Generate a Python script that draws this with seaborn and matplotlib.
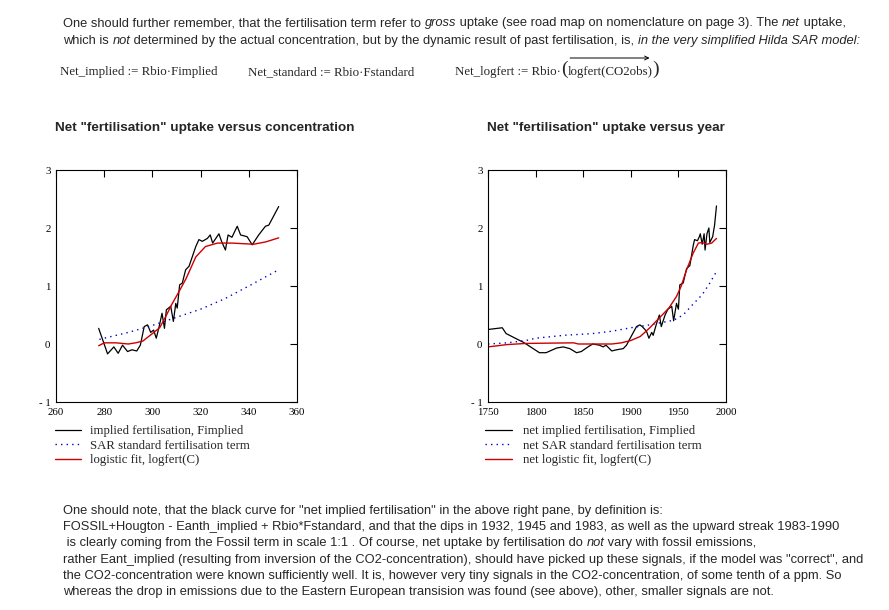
import numpy as np
import matplotlib
matplotlib.use('Agg')
import matplotlib.pyplot as plt
import seaborn as sns

sns.set_theme(style='white')
plt.rcParams['font.family'] = ['Liberation Sans', 'DejaVu Sans']

# left pane: uptake versus CO2 concentration (ppm)
conc_imp = [277.7, 281.4, 284.0, 285.8, 287.6, 289.7, 291.5, 293.5, 295.0, 296.6,
            298.0, 299.3, 300.5, 301.6, 302.8, 304.0, 305.0, 305.8, 307.6, 308.7,
            309.7, 310.3, 311.3, 312.4, 313.8, 315.2, 318.0, 319.3, 320.7, 322.8,
            324.0, 325.0, 327.6, 328.7, 330.3, 331.4, 333.0, 335.2, 336.6, 339.3,
            341.4, 344.1, 346.9, 348.3, 352.4]
imp = [0.27, -0.17, -0.05, -0.16, -0.02, -0.13, -0.10, -0.12, -0.02, 0.30,
       0.33, 0.20, 0.24, 0.10, 0.30, 0.53, 0.27, 0.59, 0.65, 0.39,
       0.70, 0.62, 1.02, 1.05, 1.28, 1.34, 1.68, 1.80, 1.77, 1.82,
       1.88, 1.74, 1.90, 1.77, 1.62, 1.88, 1.84, 2.03, 1.88, 1.85,
       1.71, 1.88, 2.03, 2.05, 2.37]
conc_std = [278, 290, 300, 310, 320, 330, 340, 352.4]
std = [0.08, 0.20, 0.32, 0.46, 0.60, 0.78, 1.00, 1.28]
conc_fit = [277.7, 280, 285, 290, 293, 296, 300, 303, 305.5, 308, 311, 314, 318,
            322, 327, 333, 342, 347, 352.4]
fit = [-0.03, 0.02, 0.02, 0.0, 0.02, 0.05, 0.18, 0.28, 0.47, 0.68, 0.9, 1.13, 1.5,
       1.68, 1.74, 1.74, 1.72, 1.76, 1.83]

# right pane: net uptake versus year
yr_imp = [1750, 1760, 1765, 1769, 1787, 1790, 1804, 1811, 1822, 1829,
          1836, 1843, 1848, 1855, 1860, 1867, 1871, 1874, 1880, 1885,
          1892, 1895.5, 1901, 1906, 1909.5, 1912, 1916.5, 1919, 1922, 1923.5,
          1927, 1930, 1932, 1936, 1939, 1943, 1945, 1948, 1950, 1951.5,
          1955, 1958.6, 1962, 1965.6, 1967, 1970, 1972, 1973, 1975, 1977,
          1978, 1980, 1982, 1983, 1986, 1988, 1990]
net_imp = [0.25, 0.27, 0.28, 0.18, 0.03, 0.0, -0.15, -0.15, -0.07, -0.05,
           -0.08, -0.15, -0.13, -0.05, 0.0, -0.02, -0.05, -0.02, -0.12, -0.1,
           -0.08, -0.02, 0.15, 0.3, 0.33, 0.3, 0.22, 0.1, 0.2, 0.15,
           0.35, 0.5, 0.3, 0.5, 0.6, 0.65, 0.4, 0.7, 0.6, 1.02,
           1.05, 1.3, 1.35, 1.7, 1.8, 1.78, 1.85, 1.9, 1.72, 1.9,
           1.62, 1.9, 2.0, 1.75, 1.85, 2.05, 2.38]
yr_std = [1750, 1770, 1790, 1800, 1830, 1860, 1880, 1900, 1920, 1945, 1955, 1965, 1975, 1983, 1990]
net_std = [0.0, 0.02, 0.06, 0.1, 0.15, 0.18, 0.22, 0.28, 0.33, 0.41, 0.5, 0.68, 0.85, 1.05, 1.25]
yr_fit = [1750, 1770, 1790, 1840, 1845, 1880, 1890, 1900, 1910, 1920, 1930, 1940, 1948,
          1953, 1958.6, 1965.6, 1971, 1975, 1980, 1985, 1990]
net_fit = [-0.05, -0.01, 0.01, 0.02, 0.0, 0.0, 0.02, 0.06, 0.13, 0.28, 0.45, 0.62, 0.82,
           1.0, 1.28, 1.57, 1.74, 1.75, 1.72, 1.74, 1.82]

left_labels = ['implied fertilisation, Fimplied', 'SAR standard fertilisation term',
               'logistic fit, logfert(C)']
right_labels = ['net implied fertilisation, Fimplied', 'net SAR standard fertilisation term',
                'net logistic fit, logfert(C)']

W, H = 889, 610
fig = plt.figure(figsize=(W / 100, H / 100), dpi=100)
fig.patch.set_facecolor('white')
SERIF = ['Liberation Serif', 'DejaVu Serif']


def px(x0, y0, x1, y1):
    # pixel box -> figure fraction rect
    return [x0 / W, 1 - y1 / H, (x1 - x0) / W, (y1 - y0) / H]


ax1 = fig.add_axes(px(56, 170, 297, 402))
ax2 = fig.add_axes(px(488, 170, 726, 402))

for ax, xs, ys, labels in [(ax1, [conc_imp, conc_std, conc_fit], [imp, std, fit], left_labels),
                           (ax2, [yr_imp, yr_std, yr_fit], [net_imp, net_std, net_fit], right_labels)]:
    sns.lineplot(x=xs[0], y=ys[0], ax=ax, color='black', lw=0.9, sort=False, label=labels[0])
    sns.lineplot(x=xs[1], y=ys[1], ax=ax, color='#0000cc', lw=1.0, sort=False,
                 linestyle=(0, (1, 3)), label=labels[1])
    sns.lineplot(x=xs[2], y=ys[2], ax=ax, color='#cc0000', lw=1.0, sort=False, label=labels[2])
    ax.set_ylim(-1, 3)
    ax.set_yticks([-1, 0, 1, 2, 3])
    ax.set_yticklabels(['- 1', '0', '1', '2', '3'])
    ax.tick_params(direction='in', top=True, right=True, length=5, width=0.8,
                   labelsize=7.8, pad=4, colors='black')
    for s in ax.spines.values():
        s.set_color('black')
        s.set_linewidth(0.8)
    ax.set_xlabel('')
    ax.set_ylabel('')
    ax.set_facecolor('white')
    ax.grid(False)

ax1.set_xlim(260, 360)
ax1.set_xticks(np.arange(260, 361, 20))
ax2.set_xlim(1750, 2000)
ax2.set_xticks(np.arange(1750, 2001, 50))
for ax in (ax1, ax2):
    for lab in ax.get_xticklabels() + ax.get_yticklabels():
        lab.set_family(SERIF)
        lab.set_fontsize(7.8)

for ax, x0, hl, tp in [(ax1, 50, 2.0, 0.75), (ax2, 480, 2.1, 0.85)]:
    h, l = ax.get_legend_handles_labels()
    ax.get_legend().remove()
    fig.legend(h, l, loc='upper left', bbox_to_anchor=(x0 / W, 1 - 420 / H),
               frameon=False, prop={'family': SERIF, 'size': 9.2},
               handlelength=hl, handletextpad=tp, labelspacing=0.2, borderaxespad=0)

fig.text(55 / W, 1 - 128 / H, 'Net "fertilisation" uptake versus concentration',
         fontsize=9.7, fontweight='bold', va='center')
fig.text(487 / W, 1 - 128 / H, 'Net "fertilisation" uptake versus year',
         fontsize=9.7, fontweight='bold', va='center')

rend = fig.canvas.get_renderer()


def width(s, **kw):
    a = fig.text(0, 0, '|' + s + '|', **kw)
    b = fig.text(0, 0, '||', **kw)
    w = a.get_window_extent(rend).width - b.get_window_extent(rend).width
    a.remove()
    b.remove()
    return w


def rich(x, y, parts, **kw):
    for s, st in parts:
        k = dict(kw)
        k.update(st)
        fig.text(x / W, 1 - y / H, s, va='center', **k)
        x += width(s, **k)
    return x


it = {'style': 'italic'}
up = {}
tsz = 9.3
rich(63, 23, [('One should further remember, that the fertilisation term refer to ', up),
              ('gross', it),
              (' uptake (see road map on nomenclature on page 3). The ', up),
              ('net', it), (' uptake,', up)], fontsize=tsz)
rich(63, 41, [('which is ', up), ('not', it),
              (' determined by the actual concentration, but by the dynamic result of past fertilisation, is, ', up),
              ('in the very simplified Hilda SAR model:', it)], fontsize=tsz)

fsz = 9.3
fig.text(60 / W, 1 - 72 / H, 'Net_implied := Rbio\u00b7Fimplied', family=SERIF, fontsize=fsz, va='center')
fig.text(248 / W, 1 - 72 / H, 'Net_standard := Rbio\u00b7Fstandard', family=SERIF, fontsize=fsz, va='center')
xe = rich(455, 72, [('Net_logfert := Rbio\u00b7', up)], family=SERIF, fontsize=fsz)
xe = rich(xe, 69, [('(', {'fontsize': 14})], family=SERIF)
xa = xe
xe = rich(xe, 72, [('logfert(CO2obs)', up)], family=SERIF, fontsize=fsz)
rich(xe, 69, [(')', {'fontsize': 14})], family=SERIF)
fig.add_artist(matplotlib.patches.FancyArrowPatch((xa / W, 1 - 58 / H), (xe / W, 1 - 58 / H),
                                                  transform=fig.transFigure, arrowstyle='->',
                                                  mutation_scale=7, lw=0.7, color='black'))

bottom = [
    'One should note, that the black curve for "net implied fertilisation" in the above right pane, by definition is:',
    'FOSSIL+Hougton - Eanth_implied + Rbio*Fstandard, and that the dips in 1932, 1945 and 1983, as well as the upward streak 1983-1990',
    None,
    'rather Eant_implied (resulting from inversion of the CO2-concentration), should have picked up these signals, if the model was "correct", and',
    'the CO2-concentration were known sufficiently well. It is, however very tiny signals in the CO2-concentration, of some tenth of a ppm. So',
    'whereas the drop in emissions due to the Eastern European transision was found (see above), other, smaller signals are not.',
]
for i, line in enumerate(bottom):
    y = 511 + i * 16.2
    if line is None:
        rich(63, y, [(' is clearly coming from the Fossil term in scale 1:1 . Of course, net uptake by fertilisation do ', up),
                     ('not', it), (' vary with fossil emissions,', up)], fontsize=tsz)
    else:
        fig.text(63 / W, 1 - y / H, line, fontsize=tsz, va='center')

fig.savefig('out.png', dpi=100, facecolor='white')
